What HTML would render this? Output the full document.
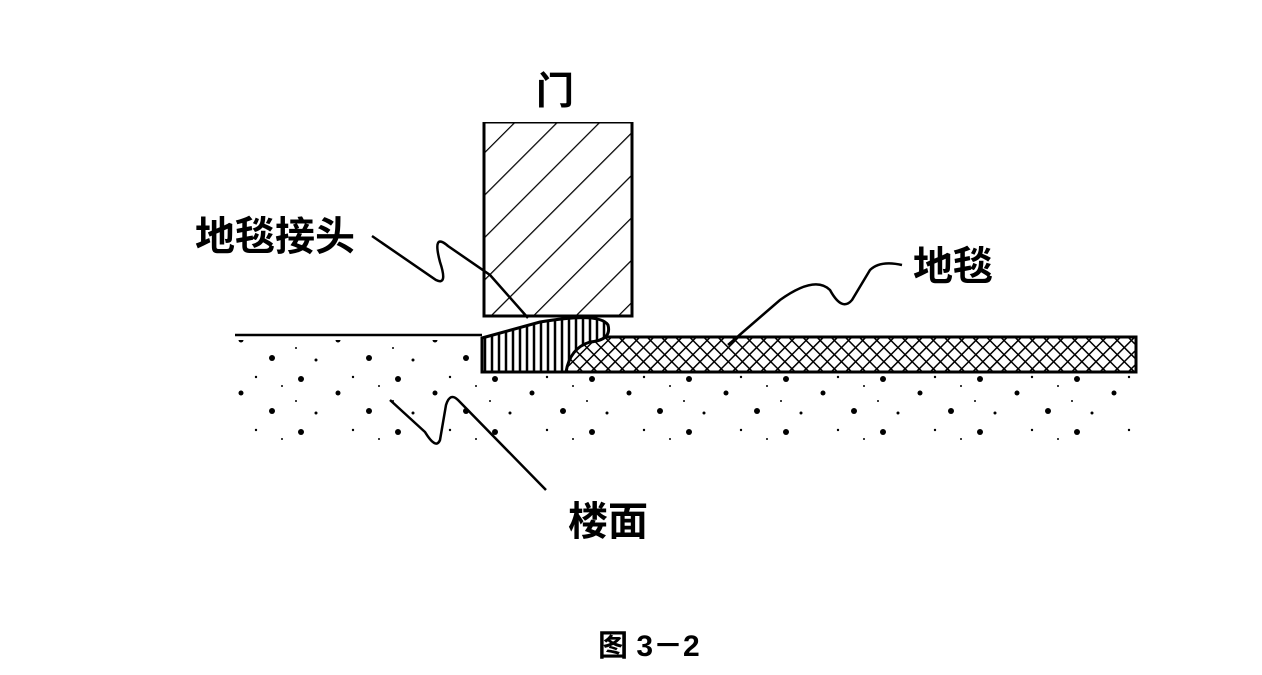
<!DOCTYPE html>
<html><head><meta charset="utf-8"><style>
html,body{margin:0;padding:0;background:#fff;width:1262px;height:675px;overflow:hidden}
svg{display:block}
text{font-family:"Liberation Sans","Noto Sans CJK SC",sans-serif;fill:#000}
</style></head><body>
<svg width="1262" height="675" viewBox="0 0 1262 675" xmlns="http://www.w3.org/2000/svg">
<defs>
<pattern id="diag" patternUnits="userSpaceOnUse" width="30" height="30" patternTransform="rotate(45)">
<line x1="0" y1="0" x2="0" y2="30" stroke="#000" stroke-width="2.5"/>
</pattern>
<pattern id="cross" patternUnits="userSpaceOnUse" width="10" height="10" patternTransform="rotate(45)">
<line x1="0" y1="0" x2="0" y2="10" stroke="#000" stroke-width="3"/>
<line x1="0" y1="0" x2="10" y2="0" stroke="#000" stroke-width="3"/>
</pattern>
<pattern id="vert" patternUnits="userSpaceOnUse" width="7" height="40">
<line x1="2" y1="0" x2="2" y2="40" stroke="#000" stroke-width="2.5"/>
</pattern>
<pattern id="dots" patternUnits="userSpaceOnUse" width="97" height="53">
<circle cx="10" cy="8" r="3" fill="#000"/>
<circle cx="47" cy="22" r="2.5" fill="#000"/>
<circle cx="78" cy="40" r="3" fill="#000"/>
<circle cx="25" cy="42" r="1.5" fill="#000"/>
<circle cx="62" cy="6" r="1.2" fill="#000"/>
<circle cx="5" cy="30" r="1" fill="#000"/>
<circle cx="88" cy="15" r="1" fill="#000"/>
</pattern>
</defs>
<rect x="236" y="340" width="900" height="100" fill="url(#dots)"/>
<line x1="235" y1="335" x2="482" y2="335" stroke="#000" stroke-width="2.5"/>
<rect x="484" y="122" width="148" height="194" fill="url(#diag)" stroke="#000" stroke-width="3"/>
<rect x="476" y="110" width="170" height="12" fill="#fff"/>
<rect x="566" y="337" width="570" height="35" fill="#fff"/>
<rect x="566" y="337" width="570" height="35" fill="url(#cross)" stroke="#000" stroke-width="3"/>
<path d="M482 338 L540 322 Q600 312 608 325 Q612 340 590 342 Q570 348 566 372 L482 372 Z" fill="#fff" stroke="none"/>
<path d="M482 338 L540 322 Q600 312 608 325 Q612 340 590 342 Q570 348 566 372 L482 372 Z" fill="url(#vert)" stroke="#000" stroke-width="3"/>
<path d="M372 236 L436 280 Q448 286 440 262 Q432 232 448 246 L490 275 L528 318" fill="none" stroke="#000" stroke-width="2.5"/>
<path d="M902 265 Q880 260 870 270 L852 300 Q842 312 830 290 Q815 275 780 300 L728 345" fill="none" stroke="#000" stroke-width="2.5"/>
<path d="M546 490 L458 400 Q450 392 446 405 L440 440 Q436 450 425 432 L390 400" fill="none" stroke="#000" stroke-width="2.5"/>
<text x="536" y="104" font-size="38" font-weight="bold">门</text>
<text x="195" y="250" font-size="40" font-weight="bold">地毯接头</text>
<text x="913" y="280" font-size="40" font-weight="bold">地毯</text>
<text x="568" y="535" font-size="40" font-weight="bold">楼面</text>
<text x="598" y="656" font-size="30" font-weight="bold">图 3－2</text>
</svg>
</body></html>
